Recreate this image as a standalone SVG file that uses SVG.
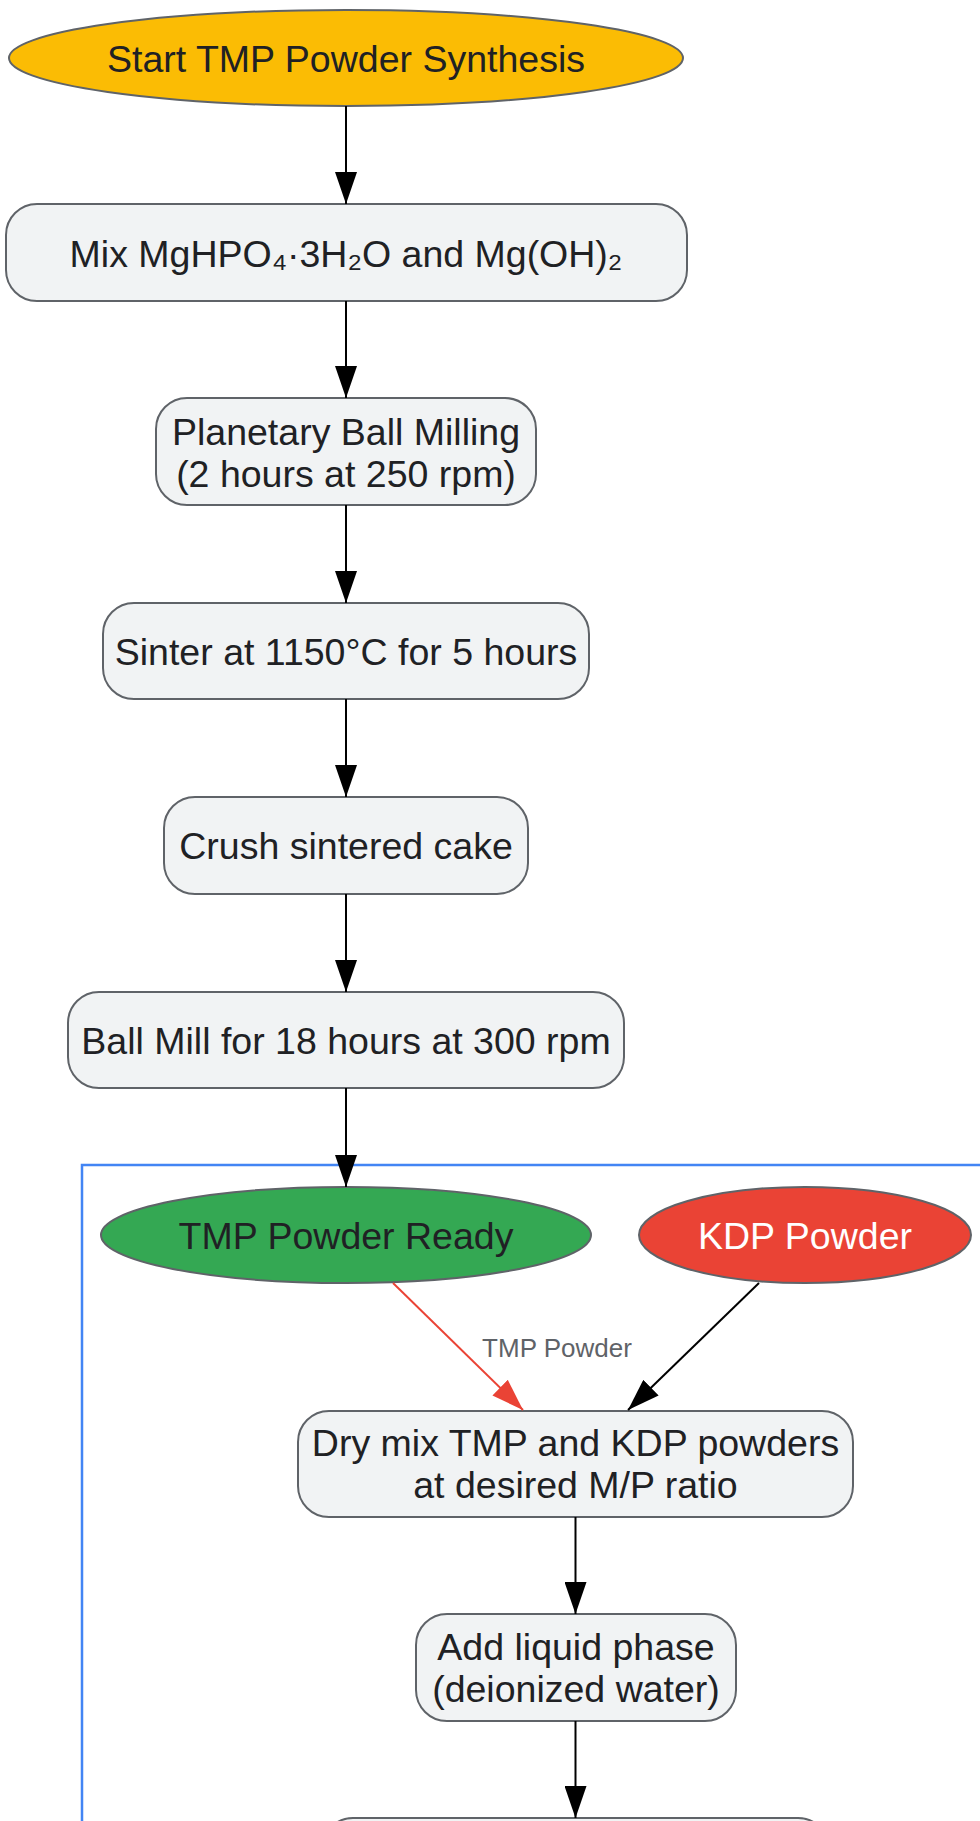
<svg xmlns="http://www.w3.org/2000/svg" width="980" height="1821" viewBox="0 0 980 1821">
<defs>
<style>
.node{fill:#F1F3F4;stroke:#5F6368;stroke-width:2}
.t{font-family:"Liberation Sans",Arial,sans-serif;font-size:37.5px;fill:#202124;text-anchor:middle}
.w{fill:#FFFFFF}
.lbl{font-family:"Liberation Sans",Arial,sans-serif;font-size:26px;fill:#5F6368;text-anchor:middle}
.e{stroke:#000;stroke-width:2;fill:none}
.er{stroke:#EA4335;stroke-width:2;fill:none}
</style>
<marker id="ah" markerUnits="userSpaceOnUse" markerWidth="32" markerHeight="22" refX="32" refY="11" orient="auto">
<path d="M0,0 L32,11 L0,22 z" fill="#000"/>
</marker>
<marker id="ahr" markerUnits="userSpaceOnUse" markerWidth="32" markerHeight="22" refX="32" refY="11" orient="auto">
<path d="M0,0 L32,11 L0,22 z" fill="#EA4335"/>
</marker>
</defs>
<rect width="980" height="1821" fill="#FFFFFF"/>
<g id="subgraph">
<rect x="82" y="1165" width="930" height="720" fill="none" stroke="#4285F4" stroke-width="2.5"/>
</g>
<g id="start">
<ellipse cx="346" cy="58" rx="337" ry="48" fill="#FBBC04" stroke="#5F6368" stroke-width="2"/>
<text class="t" x="346" y="72">Start TMP Powder Synthesis</text>
</g>
<g id="mix">
<rect class="node" x="6" y="204" width="681" height="97" rx="31"/>
<text class="t" x="346" y="267">Mix MgHPO₄·3H₂O and Mg(OH)₂</text>
</g>
<g id="planetary">
<rect class="node" x="156" y="398" width="380" height="107" rx="31"/>
<text class="t" x="346" y="445">Planetary Ball Milling</text>
<text class="t" x="346" y="487">(2 hours at 250 rpm)</text>
</g>
<g id="sinter">
<rect class="node" x="103" y="603" width="486" height="96" rx="31"/>
<text class="t" x="346" y="665">Sinter at 1150°C for 5 hours</text>
</g>
<g id="crush">
<rect class="node" x="164" y="797" width="364" height="97" rx="31"/>
<text class="t" x="346" y="859">Crush sintered cake</text>
</g>
<g id="ballmill">
<rect class="node" x="68" y="992" width="556" height="96" rx="31"/>
<text class="t" x="346" y="1054">Ball Mill for 18 hours at 300 rpm</text>
</g>
<g id="tmpready">
<ellipse cx="346" cy="1235" rx="245" ry="48" fill="#34A853" stroke="#5F6368" stroke-width="2"/>
<text class="t" x="346" y="1249">TMP Powder Ready</text>
</g>
<g id="kdp">
<ellipse cx="805" cy="1235" rx="166" ry="48" fill="#EA4335" stroke="#5F6368" stroke-width="2"/>
<text class="t w" x="805" y="1249">KDP Powder</text>
</g>
<g id="drymix">
<rect class="node" x="298" y="1411" width="555" height="106" rx="31"/>
<text class="t" x="575.5" y="1456">Dry mix TMP and KDP powders</text>
<text class="t" x="575.5" y="1498">at desired M/P ratio</text>
</g>
<g id="liquid">
<rect class="node" x="416" y="1614" width="320" height="107" rx="31"/>
<text class="t" x="576" y="1660">Add liquid phase</text>
<text class="t" x="576" y="1702">(deionized water)</text>
</g>
<g id="next">
<rect class="node" x="322" y="1818" width="507" height="100" rx="31"/>
</g>
<g id="connectors">
<line class="e" x1="346" y1="106" x2="346" y2="204" marker-end="url(#ah)"/>
<line class="e" x1="346" y1="301" x2="346" y2="398" marker-end="url(#ah)"/>
<line class="e" x1="346" y1="505" x2="346" y2="603" marker-end="url(#ah)"/>
<line class="e" x1="346" y1="699" x2="346" y2="797" marker-end="url(#ah)"/>
<line class="e" x1="346" y1="894" x2="346" y2="992" marker-end="url(#ah)"/>
<line class="e" x1="346" y1="1088" x2="346" y2="1187" marker-end="url(#ah)"/>
<line class="er" x1="393" y1="1283" x2="523" y2="1410" marker-end="url(#ahr)"/>
<text class="lbl" x="557" y="1357">TMP Powder</text>
<line class="e" x1="759" y1="1283" x2="628" y2="1410" marker-end="url(#ah)"/>
<line class="e" x1="575.5" y1="1517" x2="575.5" y2="1614" marker-end="url(#ah)"/>
<line class="e" x1="575.5" y1="1721" x2="575.5" y2="1818" marker-end="url(#ah)"/>
</g>
</svg>
